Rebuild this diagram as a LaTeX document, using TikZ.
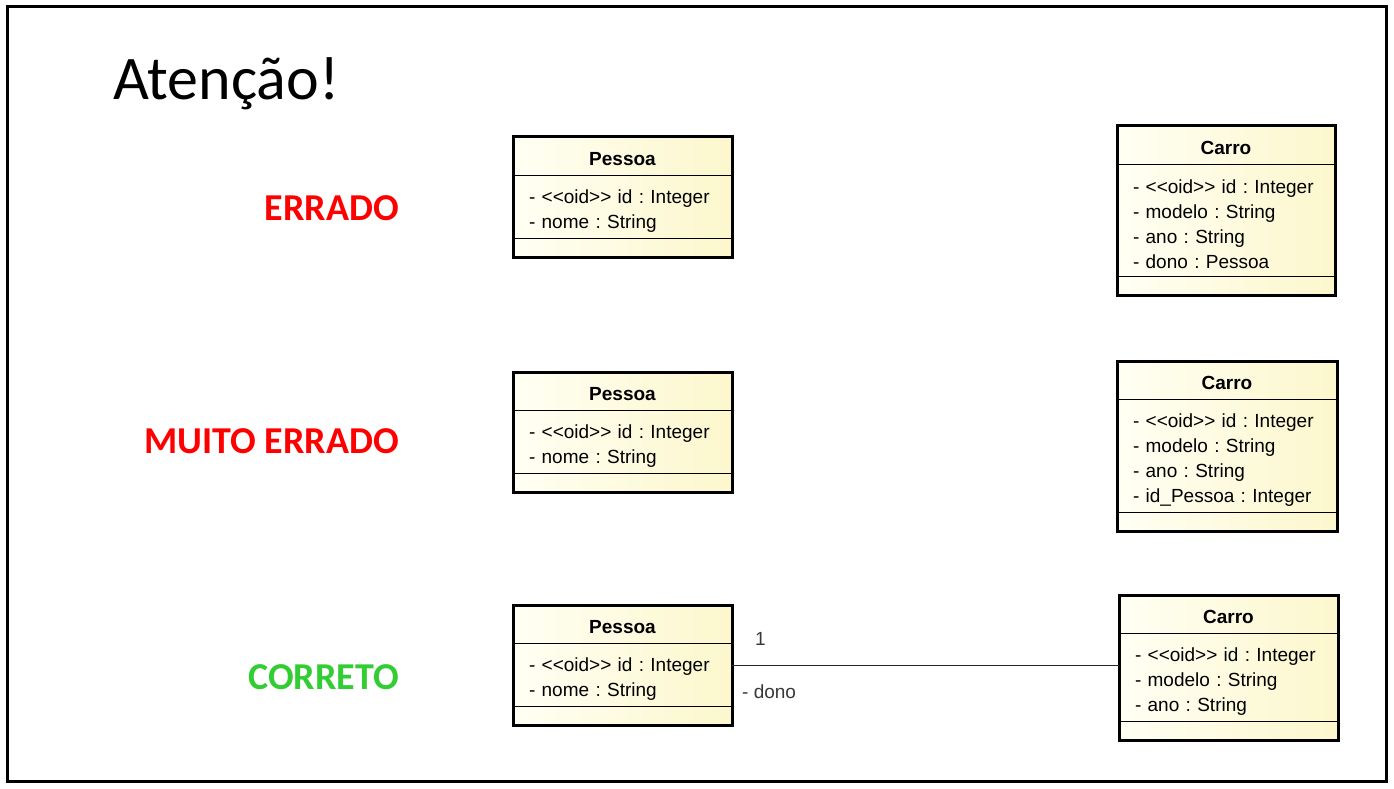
\documentclass[tikz,border=0pt]{standalone}
\usepackage{fontspec}
\setmainfont{Carlito}
\newfontfamily\umlfont{Liberation Sans}
\usetikzlibrary{positioning}
\frenchspacing

\definecolor{umlLight}{RGB}{255,255,244}
\definecolor{umlDark}{RGB}{252,247,204}
\definecolor{wrongRed}{RGB}{255,0,0}
\definecolor{rightGreen}{RGB}{50,205,50}
\definecolor{assocGray}{RGB}{55,55,55}

% one UML class: name, top left corner, width, attribute height, title, attributes
\newcommand{\umlclass}[6]{%
    \pgfmathsetmacro{\attrwidth}{#3-32}
    \node[classhead, minimum width=#3pt] (#1-head) at (#2) {#5};
    \node[classattr, minimum width=#3pt, text width=\attrwidth pt, minimum height=#4pt] (#1-attr) at (#1-head.south west) {#6};
    \node[classfoot, minimum width=#3pt] (#1-foot) at (#1-attr.south west) {};
    \draw[classframe] (#1-head.north west) rectangle (#1-foot.south east);
}

\begin{document}
\frenchspacing
\begin{tikzpicture}[
    x=1pt, y=-1pt,
    classpart/.style={rectangle, draw=black, line width=1pt, left color=umlLight, right color=umlDark, anchor=north west, outer sep=0pt},
    classhead/.style={classpart, minimum height=38pt, inner sep=0pt, text height=28pt, text depth=10pt, font=\umlfont\bfseries\fontsize{19}{25}\selectfont},
    classattr/.style={classpart, inner xsep=16pt, inner ysep=0pt, align=left, execute at begin node={\rule{0pt}{22pt}}, font=\umlfont\fontsize{19}{25}\selectfont},
    classfoot/.style={classpart, minimum height=19pt, inner sep=0pt},
    classframe/.style={line width=3pt},
    verdict/.style={anchor=east, inner sep=0pt, font=\bfseries\fontsize{38}{44}\selectfont},
    assoc/.style={line width=1pt, draw=black!85},
    assoclabel/.style={inner sep=0pt, text=assocGray, font=\umlfont\fontsize{19}{23}\selectfont}
]
    \useasboundingbox (0,0) rectangle (1394,789);
    \draw[line width=3pt] (7,7) rectangle (1386,781);

    \node[anchor=base west, inner sep=0pt, font=\fontsize{62}{70}\selectfont] (title) at (113,100) {Atenção!};

    \node[verdict, text=wrongRed] (errado) at (399,208) {ERRADO};
    \node[verdict, text=wrongRed] (muito) at (399,441) {MUITO ERRADO};
    \node[verdict, text=rightGreen] (correto) at (399,677) {CORRETO};

    % ERRADO
    \umlclass{p1}{513,137}{219}{63}{Pessoa}{- <{}<oid>{}> id : Integer\\- nome : String}
    \umlclass{c1}{1117,126}{218}{112}{Carro}{- <{}<oid>{}> id : Integer\\- modelo : String\\- ano : String\\- dono : Pessoa}

    % MUITO ERRADO
    \umlclass{p2}{513,372}{219}{63}{Pessoa}{- <{}<oid>{}> id : Integer\\- nome : String}
    \umlclass{c2}{1117,361}{220}{113}{Carro}{- <{}<oid>{}> id : Integer\\- modelo : String\\- ano : String\\- id\_Pessoa : Integer}

    % CORRETO
    \umlclass{p3}{513,605}{219}{63}{Pessoa}{- <{}<oid>{}> id : Integer\\- nome : String}
    \umlclass{c3}{1119,595}{219}{88}{Carro}{- <{}<oid>{}> id : Integer\\- modelo : String\\- ano : String}

    \coordinate (a1) at ([yshift=-22pt]p3-head.south east);
    \draw[assoc] (a1) -- (a1 -| c3-attr.west);
    \node[assoclabel, above right=19pt and 23pt of a1] (mult) {1};
    \node[assoclabel, below right=20pt and 10pt of a1] (role) {- dono};
\end{tikzpicture}
\end{document}
